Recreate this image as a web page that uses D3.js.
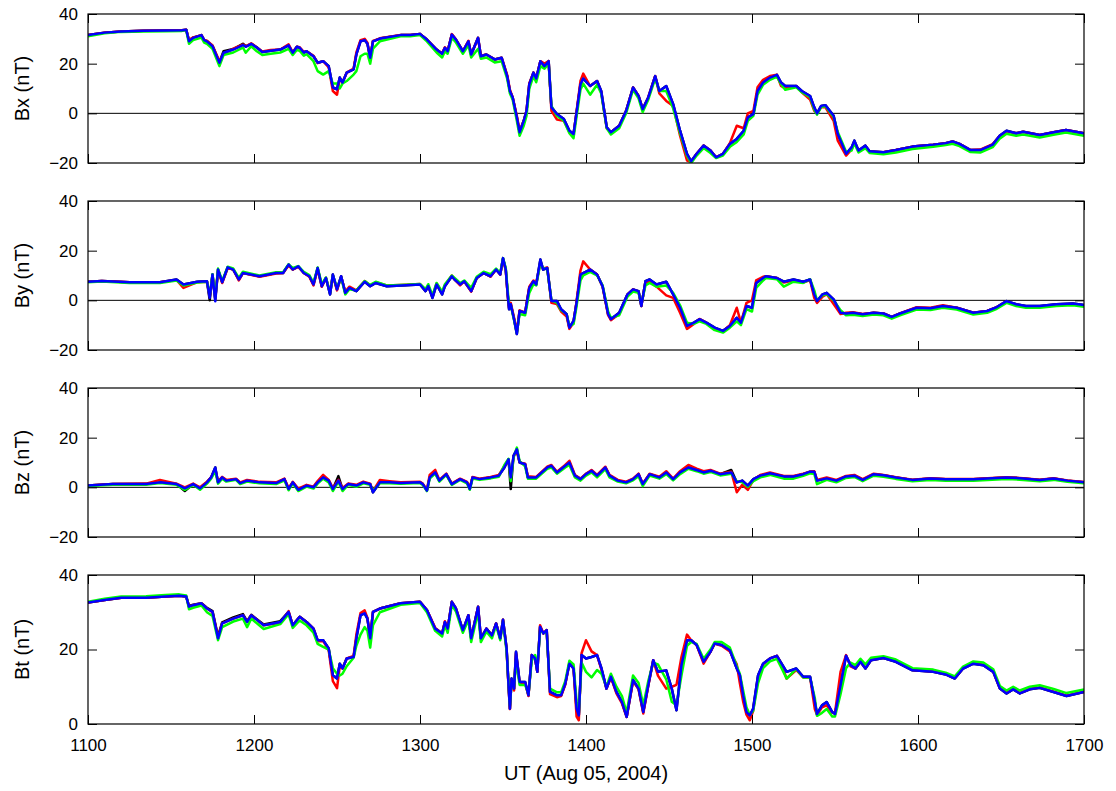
<!DOCTYPE html>
<html>
<head>
<meta charset="utf-8">
<script src="https://cdn.jsdelivr.net/npm/d3@7"></script>
<style>
  body { margin: 0; background: #fff; }
  svg { display: block; }
  text { font-family: "Liberation Sans", Arial, sans-serif; }
</style>
</head>
<body>
<div id="chart"></div>
<script>
// time in minutes after 11:00 UT, one array per panel
const xTickValues = [0, 60, 120, 180, 240, 300, 360];
const xTickLabels = ["1100", "1200", "1300", "1400", "1500", "1600", "1700"];

// ---- Bx ----
const bxT = [0,6,12,20,28,34,35.5,36.5,38,41,
  42,43,45,47.5,49,52.5,56,57,59,61,
  63,66,69.5,72.5,74,75.5,76.5,78,79,81.5,
  83,85,87,88.5,90,91,92,93.5,96,97,
  98.5,100,101,102,103,105.5,113,116.5,120,122.5,
  126,128,129,130,131.5,133,135.5,137.5,138.5,141,
  142,144,147,149.5,151.5,152.5,153.5,155,156,157.5,
  158.5,159.5,161,162,163.5,165,166.5,167.5,169.5,172,
  174,175.5,176.5,178,179,181.5,184,185.5,187.5,189,
  192,194.5,197,199,200.5,202.5,205,206.5,209,211.5,
  214,216.5,218,220,222.5,225,227,229.5,232,234.5,
  237,238.5,240.5,242,244,246.5,249,250.5,252,256,
  258,261,262.5,263.5,265,266.5,269.5,271,274,276,
  277,278.5,281,282.5,287.5,292,298,305.5,310,312.5,
  315,319,322.5,327,329.5,332,335.5,338,344,349,
  353.5,360];
const bxBlack = [31.5,32.5,33,33.3,33.4,33.5,33.7,29.2,30.5,31.5,
  29.5,29,27.2,20.6,25,25.9,28,27,28,26.6,
  24.7,25.2,25.7,27.4,24.4,26.8,26.4,24.5,25,23,
  20.4,21,19,10.4,9.7,14.4,12.4,16.4,17.7,23.7,
  29,29.5,28,22.4,29,30.1,31.5,31.5,32,29.7,
  25.7,24,26.4,25,31.7,29.7,25,29,23.7,30.4,
  23,23.7,21.7,22.4,15,9,6.4,-1.6,-7.6,-3,
  1,11.7,16.4,14,21,19,21,2.4,-0.3,-2.3,
  -7,-8.3,-0.3,11.7,14,11,13,9,-5.6,-7.6,
  -5,1,10.4,7,1.7,6.4,15,9,11,3.7,
  -7,-16.3,-19.3,-16.3,-13,-15,-17.7,-16.3,-12.3,-10.3,
  -7,-1.6,-0.3,9,12.4,14.4,15.5,12.4,11,11,
  9,7,2.4,0,3,3.3,-1,-8.3,-16.3,-13.7,
  -11,-15,-13,-15.3,-15.7,-14.8,-13.4,-12.6,-12,-11.3,
  -12.3,-14.8,-14.8,-12.6,-9,-7,-8,-7.4,-8.7,-7.6,
  -6.7,-8];
const bxRed = [31.5,32.5,33,33.3,33.4,33.5,33.7,29.5,30.6,31.5,
  29.5,29.2,27.3,21,24,26,27.7,27,28.2,26.5,
  24.9,25.5,25.7,27.8,24.6,26.8,26.6,24.8,25,23.2,
  20.2,21,18.5,9,7.5,13.8,12.4,16.4,18,24.5,
  29.5,30,28.4,22.4,29.2,30.2,31.5,31.5,32,29.7,
  25.7,24.2,26.6,25,31.9,29.7,25,29.2,23.7,30.4,
  23.2,23.7,21.7,22.4,15.5,9.5,6.4,-1,-7,-3,
  1,12,16.4,14,21,20,21,1,-2.5,-3,
  -7.5,-8.5,0,13,16,11,13,8.5,-6,-7.6,
  -5,1,10.4,7,1.7,6.4,15,8,5,3,
  -9,-19,-19.5,-16.3,-13,-15,-17.7,-16.3,-12,-5,
  -6,0,1,10.5,13.5,15,15.5,11,10,11,
  8.5,5.5,1,0,2.5,2.5,-3,-11,-17,-14.5,
  -11.5,-15.2,-13.2,-15.5,-15.7,-14.8,-13.4,-12.6,-12,-11.3,
  -12.3,-14.8,-14.6,-12.4,-9.2,-7.2,-8,-7.4,-8.7,-7.6,
  -6.7,-8];
const bxGreen = [31,32.2,32.8,33,33.1,33.2,33.5,28,29.5,30.5,
  28.5,28,26,19,23.5,24.5,26.5,24.4,27,25,
  23.5,24,24.5,26,23.5,25.5,25.2,23.2,23.8,21,
  17,15.6,17,12,12,10,12,13,15.6,17,
  23,24,24,20,26,29,31,31,31.5,29,
  24.5,22.5,25,24,30.5,28.5,24,27.5,22.5,26,
  22,22.5,20.5,21,14,8,5.5,-3,-9,-5,
  -1,10,15,12.5,19,18,20,3,-1,-3,
  -8,-10,-2,9.5,12,7.5,11.5,8,-6,-8.5,
  -6,0,9.5,6,0.5,5.5,14,9,9,2,
  -8,-17,-20,-17,-14,-16,-18,-17,-13.5,-11.5,
  -8.5,-3,-1,7.5,11.5,13.5,14.8,11.8,9.5,10.5,
  8.5,6.5,1.5,-0.5,2.5,3,-1.5,-7.5,-15.5,-15,
  -12,-15.8,-14,-16,-16.5,-15.8,-14.4,-13.5,-12.8,-12.3,
  -13.2,-15.6,-15.8,-13.6,-10.2,-8.2,-9,-8.5,-9.7,-8.6,
  -7.7,-9];
const bxBlue = [31.5,32.5,33,33.3,33.4,33.5,33.7,29,30.4,31.5,
  29.5,29,27,20.4,24.4,25.7,27.5,26.8,28,26.5,
  24.7,25.2,25.7,27.4,24.4,26.8,26.4,24.5,25,23,
  20.4,21,19,10.4,9.7,14.4,12.4,16.4,17.7,23.7,
  29,29.5,28,22.4,29,30.1,31.5,31.5,32,29.7,
  25.7,24,26.4,25,31.7,29.7,25,29,23.7,30.4,
  23,23.7,21.7,22.4,15,9,6.4,-1.6,-7.6,-3,
  1,11.7,16.4,14,21,19,21,2.4,-0.3,-2.3,
  -7,-8.3,-0.3,11.7,14,11,13,9,-5.6,-7.6,
  -5,1,10.4,7,1.7,6.4,15,9,11,3.7,
  -7,-16.3,-19.3,-16.3,-13,-15,-17.7,-16.3,-12.3,-10.3,
  -7,-1.6,-0.3,9,12.4,14.4,15.5,12.4,11,11,
  9,7,2.4,0,3,3.3,-1,-8.3,-16.3,-13.7,
  -11,-15,-13,-15.3,-15.7,-14.8,-13.4,-12.6,-12,-11.3,
  -12.3,-14.8,-14.8,-12.6,-9,-7,-8,-7.4,-8.7,-7.6,
  -6.7,-8];

// ---- By ----
const byT = [0,5,15,26,32,34.5,39.5,43,44,45,
  46,47,48.5,50.5,52.5,54.5,56,62,68,70.5,
  72.5,74,76,78,80,81.5,83,84.5,86,87.5,
  88.5,90,91.5,93,94.5,97,100,102,104,108,
  115,120,122,123,124.5,126,128,129,131.5,132.5,
  134.5,136,138.5,140.5,143,145.5,147.5,149,150,151,
  151.7,152.2,152.8,154,155,156,158,159.5,161,162,
  163.5,164.5,166,167.5,169.5,171,173,174,175.5,176.5,
  178,179,181.5,184,186,188,189,192,195,197,
  199,200,201.5,203,205.5,209,211.5,214,216.5,219,
  221,223.5,226.5,229.5,232,234.5,236,238,240,241.5,
  244,245,249,251.5,255,258.5,261,262.5,263.5,265.5,
  267,269.5,272,274,276.5,280,284,287.5,290.5,293.5,
  299.5,304.5,309,314,320,325,328.5,332,335.5,339,
  344,350,356,360];
const byBlack = [7.5,7.8,7.3,7.3,8.4,6.4,7.5,7.7,0,10.4,
  0.5,12.4,7.3,13.3,12.4,8.4,11,9.7,11,11,
  14.4,12.4,13.7,11,9.7,6.4,13,5.7,9,2.4,
  10.4,4.4,9.7,3,5,3.7,7.5,5.7,7,5.7,
  6.1,6.4,3.7,5.7,1,6.4,2.4,5.7,9.7,8.4,
  6.4,7.7,3.7,9,11,9.7,12.4,10.4,17,12.4,
  2.4,-3.6,-1.6,-7.6,-13.6,-4.3,-5,5,7.7,6.4,
  16.4,12.4,13,-0.3,-0.3,-3.6,-5.6,-11,-8.3,-1.6,
  10.4,11,12.4,10.4,5.7,-5.6,-7.6,-5,2.4,4.4,
  3.7,-2.3,7.7,8.4,6.4,7.5,2.4,-3,-10.3,-9,
  -7.6,-9,-11,-12.3,-10.3,-7,-9,-2.3,-3,7,
  9,9.7,9,7.5,8.4,7.5,8.4,2.4,-0.3,2.4,
  3,0.4,-5,-5.3,-5,-5.6,-5,-5.3,-6.7,-5.3,
  -3,-3.2,-2.3,-3,-5,-4.3,-2.7,-0.3,-1.6,-2.3,
  -2.3,-1.6,-1.3,-1.9];
const byRed = [7.5,7.8,7.3,7.3,8.2,5,7.3,7.5,1.5,10,
  0.5,12,7,13,12.4,8,11,9.5,10.8,11,
  14,12.4,13.5,11,9.5,6,12.5,5.5,9,3,
  10,4,9.5,3.5,5.5,4,7.8,6,7.3,6,
  6.3,6.6,4,5.7,1.5,6.8,3,6,10,8.4,
  6,7.7,3.5,9,11,9.5,12.4,10.4,16.5,12,
  2,-3,-1,-7,-12.5,-4,-5,5.5,8,6.8,
  15,12.8,13.2,-1,-1.5,-4.5,-6.5,-11.5,-9,-1,
  12,15.7,12.4,10.4,5.5,-6,-8,-5.5,2.4,4.4,
  3.5,-2.3,7.5,7.5,5.5,2,1,-5,-11.5,-9.5,
  -7.5,-9,-11.5,-12.3,-10,-3,-9,-1,0,8,
  9.5,9.7,9,7.2,8,7.2,8.2,1,-1,1.5,
  2.5,-1.5,-5.5,-5,-4.8,-5.5,-5,-5.3,-6.7,-5.3,
  -2.8,-3,-2,-3,-5,-4.3,-2.7,-0.4,-1.8,-2.5,
  -2.5,-1.8,-1.5,-2.1];
const byGreen = [7.3,7.6,7,7,8,6,7.2,7.5,2,10.5,
  1,12.8,7.8,13.5,12.8,9,11.5,10,11.3,11.3,
  14.5,13,13.8,11.5,10.2,7,13.2,6.5,9.2,3,
  10,5,9.2,2.4,4.5,4,7.8,6.2,7.5,6,
  6.3,6.6,4.5,6.5,2,7,3.5,6.5,10,9,
  7,8,5,9.5,11.5,10.5,12.8,11,17,13,
  4,-2,-2,-8,-13,-5.5,-6,3,6.5,6,
  15,13,12.5,0,-1,-4,-5.5,-10.5,-9.5,-3,
  8,10,11.5,10,6,-4.5,-7,-6,1.5,3.5,
  3,-1.5,6,7,5.5,6,3,-2,-9,-9.5,
  -8.5,-9.5,-12,-13,-11,-8.5,-10,-3.5,-4.5,5,
  8,9,8.5,5.5,7.5,7,8.5,4,0,2,
  2.5,0,-4,-6,-5.8,-6.3,-5.7,-6,-7.4,-6,
  -3.7,-3.9,-3,-3.7,-5.7,-5,-3.4,-1,-2.3,-3,
  -3,-2.3,-2,-2.6];
const byBlue = [7.5,7.8,7.3,7.3,8.4,6.4,7.5,7.7,1,10.4,
  -0.4,12.4,7.3,13.3,12.4,8.4,11,9.7,11,11,
  14.4,12.4,13.7,11,9.7,6.4,13,5.7,9,2.4,
  10.4,4.4,9.7,3,5,3.7,7.5,5.7,7,5.7,
  6.1,6.4,3.7,5.7,1,6.4,2.4,5.7,9.7,8.4,
  6.4,7.7,3.7,9,11,9.7,12.4,10.4,17,12.4,
  2.4,-3.6,-1.6,-7.6,-13.6,-4.3,-5,5,7.7,6.4,
  16.4,12.4,13,-0.3,-0.3,-3.6,-5.6,-11,-8.3,-1.6,
  10.4,11,12.4,10.4,5.7,-5.6,-7.6,-5,2.4,4.4,
  3.7,-2.3,7.7,8.4,6.4,7.5,2.4,-3,-10.3,-9,
  -7.6,-9,-11,-12.3,-10.3,-7,-9,-2.3,-3,7,
  9,9.7,9,7.5,8.4,7.5,8.4,2.4,-0.3,2.4,
  3,0.4,-5,-5.3,-5,-5.6,-5,-5.3,-6.7,-5.3,
  -3,-3.2,-2.3,-3,-5,-4.3,-2.7,-0.3,-1.6,-2.3,
  -2.3,-1.6,-1.3,-1.9];

// ---- Bz ----
const bzT = [0,9,21,26,32,35,38,40.5,43,44.5,
  46,47,48.5,50,53.5,55,57.5,62,68,71,
  72.5,74,76,79,81.5,83,85,87,88.5,90.5,
  92,94,97,99.5,102,103,105.5,109,113,120,
  121,122.5,123.5,125.5,127,129.5,131.5,134.5,137,138,
  139,141.5,145.5,148.5,150.5,152,152.8,153.8,155,156,
  158,159,162,166,167.5,169.5,172.5,174,176,178,
  180,182,184,187,188.5,191.5,194.5,197,199,200.5,
  203,206.5,209,211.5,214,217,220,222.5,225,228.5,
  232.5,234.5,236.5,238.5,240.5,243,246.5,251.5,255,258.5,
  261,262.5,263.5,267,270.5,274,277,280,284,287.5,
  292,298,304.5,310,320,332,338,344,349,354,
  360];
const bzBlack = [0.7,1.3,1.3,2,1.3,-1.5,1.3,-0.4,2,4,
  8,2,4,2.7,3.3,1.7,2.7,2,1.7,3.3,
  -0.7,2,-1,0.7,0,2,4,2.7,-0.7,4.5,
  -0.7,1.3,0.7,2,1.3,-2,2,2,1.7,2,
  1.3,-1.3,4,6,2.7,5.3,1.3,3.3,2,-0.7,
  4,3.3,4,4.7,8,11.3,-0.7,12.7,15.3,10,
  9.3,4,4,8,8.7,6,8.7,10,4.7,3.3,
  5.3,6.7,4.7,8,4.7,2.7,2,3.3,5.3,1.3,
  5.3,4,6,3.3,6,8,7,6,6.7,5.3,
  7,2,2.7,0.7,3.3,4.7,5.7,4.4,4.4,5.3,
  6.3,6.3,2.7,3.6,2.7,4.4,4.7,3,5.3,4.9,
  4,3,3.6,3.3,3.3,4,3.6,3,3.6,2.7,
  2];
const bzRed = [0.7,1.3,1.5,3,1.5,0,1.5,0,2.3,4,
  7,2.3,4.2,3,3.5,2,3,2.2,2,3.5,
  -0.3,2.2,-0.5,1,0.3,2.5,5,3,-0.3,3,
  -0.3,1.5,1,2.3,1.5,-1.5,3,2.5,2,2.2,
  1.5,-1,5,7,3,5.5,1.5,3.5,2.2,0,
  4.2,3.5,4.2,5,8.5,11,3.5,12.5,14.5,10,
  9.5,4.5,4.2,8.3,9,6.3,9,10.7,5,3.5,
  5.5,7,5,8.3,5,3,2.3,3.5,5.5,1.5,
  5.5,4.3,6.5,3.5,6.5,9,7.5,6.5,7,5.5,
  6.3,-2,1,-1,3,5,6,4.6,4.6,5.5,
  6.3,6.5,3,4,3,4.6,5,3.3,5.5,5,
  4.1,3.1,3.7,3.4,3.4,4.1,3.7,3.1,3.7,2.8,
  2.1];
const bzGreen = [0.5,1,1,1.7,1,-1,1,-1,1.5,3.5,
  6.5,1.5,3.5,2.3,3,1.3,2.3,1.6,1.3,2.8,
  -1.2,1.6,-1.5,0.3,-0.5,1.5,3.5,2,-1.5,2.3,
  -1.5,1,0.2,1.6,1,-1.5,1.7,1.6,1.4,1.7,
  1,-1.5,3.5,5.5,2.3,5,1,3,1.6,-1,
  3.5,3,3.6,4.3,9,11.5,2.5,12,16,10.5,
  8.5,3.5,3.5,7.5,8,5.5,8,9,4,2.7,
  4.7,6,4,7.3,4,2.3,1.6,2.8,4.5,0.5,
  4.7,3.5,5.3,2.8,5.3,7.5,6.5,5.5,6.2,4.8,
  5.5,2.5,2,0.2,2.5,4,5,3.5,3.5,4.6,
  5.6,5.5,1.3,3,2,3.8,4.2,2.5,4.7,4.3,
  3.4,2.4,3,2.7,2.7,3.4,3,2.4,3,2.2,
  1.6];
const bzBlue = [0.7,1.3,1.3,2,1.3,-0.4,1.3,-0.4,2,4,
  8,2,4,2.7,3.3,1.7,2.7,2,1.7,3.3,
  -0.7,2,-1,0.7,0,2,4,2.7,-0.7,2.7,
  -0.7,1.3,0.7,2,1.3,-2,2,2,1.7,2,
  1.3,-1.3,4,6,2.7,5.3,1.3,3.3,2,-0.7,
  4,3.3,4,4.7,8,11.3,4,12.7,15.3,10,
  9.3,4,4,8,8.7,6,8.7,10,4.7,3.3,
  5.3,6.7,4.7,8,4.7,2.7,2,3.3,5.3,1.3,
  5.3,4,6,3.3,6,8,7,6,6.7,5.3,
  6,2,2.7,0.7,3.3,4.7,5.7,4.4,4.4,5.3,
  6.3,6.3,2.7,3.6,2.7,4.4,4.7,3,5.3,4.9,
  4,3,3.6,3.3,3.3,4,3.6,3,3.6,2.7,
  2];

// ---- Bt ----
const btT = [0,6,12,21,28,33,35.5,36.5,38,41,
  43,45,47,48.5,52.5,56,57.5,59,63.5,69.5,
  72.5,74,76.5,79,81.5,83,85,87,88.5,90,
  91,92,93.5,96,97,98.5,100,101,102,103,
  105.5,113,120,122.5,125.5,128,129,130,131.5,133,
  135.5,137.5,138.5,141,142,144,146,147.5,149,150,
  151.3,152,152.5,153.1,154,154.7,156,158,159.2,160.4,
  161.6,162.4,163.4,164.6,165.8,167,169.5,171,172.5,174,
  175.5,176.6,177.4,178.4,180,182,184,185.6,187.4,189,
  191,193,194.7,197,199,200.7,202.5,204.3,206,209,
  211,212.7,214.5,216.5,218,220,222.5,225,226.5,229,
  232,234.5,235.6,236.8,238,239.2,240.4,242.2,244,246.5,
  249,250.7,252.5,256,258.5,261,262.7,263.5,265.3,267,
  269,270,272,274,275.6,277.4,279.2,281,283,287.5,
  292,298,305.5,310,313.3,316.3,320,323.6,327.2,329.6,
  332,334.4,336.8,340.4,344,349,353.7,360];
const btBlack = [32.6,33.3,33.9,33.9,34.2,34.4,34.2,31.7,32,32.4,
  31.2,30.3,23.5,27.3,28.6,29.5,27.6,29.3,26.7,27.6,
  30.1,26.5,28.8,27.4,25.6,22.5,22.5,20.3,13.1,12.2,
  16.2,14.9,17.6,18,23,29.2,29.7,28.3,23,30.1,
  31,32.4,32.8,30.6,25.6,24.3,27.4,25.6,32.8,31,
  25.2,29.2,23,31.5,23,25.6,23.8,27,23,28,
  20.3,10.4,4.1,12.2,9.5,19.4,11.3,11.3,7.7,18.5,
  17.6,14,26.1,24.3,25.2,8.6,7.7,7.7,10.8,16.2,
  14.9,4.1,2.3,18.5,17.6,18,18.5,14.9,9.5,12.7,
  8.6,5.9,1.9,11.8,9.5,3.2,10.4,17.1,14,14.4,
  9.5,3.7,15.8,22.5,22.5,21.2,16.7,19.4,21.6,21.2,
  19.8,14.9,13.1,7.7,3.2,2.3,4.1,13.1,16.2,17.6,
  18.3,16.2,14,14.9,12.7,12.7,5.9,2.7,5,5.9,
  3.2,2.7,10.4,18.3,15.8,14.9,16.7,14.9,17.1,17.7,
  16.7,14.4,14,13.3,12.2,14.9,16.2,15.8,14,9.5,
  8.2,9.3,8.2,9.3,9.7,8.6,7.5,8.6];
const btRed = [32.6,33.3,33.9,33.9,34.2,34.4,34.2,31.5,31.9,32.4,
  31,30,23.3,27,28.3,29.2,27.4,29.2,26.5,27.2,
  30.3,26.5,28.8,27.4,25.6,22.2,22.3,19.8,11.5,9.6,
  15.5,14.9,17.6,18.3,24,29.8,30.5,28.5,23,30.1,
  31,32.4,32.8,30.6,25.8,24.3,27.6,25.6,32.8,31,
  25,29.2,23,31.5,23,25.6,23.8,27,23,28,
  20,10,4,12,9,19,11,11,7.5,18.5,
  17.6,14,26.5,24.3,25.2,8,7.2,7.5,10.5,16.5,
  15,2,1,19,22.5,19.5,18.5,14.5,9.5,12.5,
  8.2,5.5,1.9,11.5,9.3,2.8,10.2,17.1,13,9.5,
  10,10.5,18,24,22.5,21.2,16.2,19.4,21.6,21,
  19.5,16,11,6,2.5,1,3.5,12.5,16,17.6,
  18.3,16,12.2,14.5,12.5,12.5,4,2.5,4.5,5,
  3,3,14,18.5,15.5,14.9,16.8,15,17.2,17.8,
  16.8,14.5,14.1,13.4,12.3,15,16.3,15.9,14.1,9.6,
  8.3,9.4,8.3,9.4,9.8,8.7,7.6,8.7];
const btGreen = [32.8,33.6,34.2,34.3,34.6,34.8,34.5,30.8,31.2,31.8,
  30,29,22.5,26,27.5,28.3,26,28.3,25.5,26.8,
  29.5,25.8,27.8,26.5,24.5,21.5,20.7,20,15,13.5,
  13,13.5,15.5,17.8,21,24,26,25,20.5,26.5,
  30,32,32.5,30,25,23.5,26.5,24.5,32,30.2,
  24.5,28,22,30,22,24.8,23,26.5,22.5,27.5,
  19.5,11,5,11,10,17,10.5,10.5,8,17,
  18.5,15.5,25,24.5,24.5,9.5,8.5,8.5,11.5,17,
  16,6,3,16.5,14,12.5,14.5,13.5,10,13.5,
  10,7.5,3,13,11,5,11.5,16.5,16,12,
  6,5,13,21,22,21.5,17.5,20,22,22,
  20.5,15.5,13.5,9,4.5,2.5,3.5,11,15,16.8,
  17.5,15,12.2,14.8,12.5,12.5,7,2.2,3,4,
  2,2,8,15,16.5,15.8,17.5,16,17.8,18.2,
  17.3,15,14.6,13.8,12.8,15.4,16.8,16.5,14.7,10.2,
  9,10,9,10,10.4,9.4,8.3,9.3];
const btBlue = [32.6,33.3,33.9,33.9,34.2,34.4,34.2,31.5,31.9,32.4,
  31,30.1,23,27,28.3,29.2,27.4,29.2,26.5,27.4,
  30.1,26.5,28.8,27.4,25.6,22.5,22.5,20.3,13.1,12.2,
  16.2,14.9,17.6,18,23,29.2,29.7,28.3,23,30.1,
  31,32.4,32.8,30.6,25.6,24.3,27.4,25.6,32.8,31,
  25.2,29.2,23,31.5,23,25.6,23.8,27,23,28,
  20.3,10.4,4.1,12.2,9.5,19.4,11.3,11.3,7.7,18.5,
  17.6,14,26.1,24.3,25.2,8.6,7.7,7.7,10.8,16.2,
  14.9,4.1,2.3,18.5,17.6,18,18.5,14.9,9.5,12.7,
  8.6,5.9,1.9,11.8,9.5,3.2,10.4,17.1,14,14.4,
  9.5,3.7,15.8,22.5,22.5,21.2,16.7,19.4,21.6,21.2,
  19.8,14.9,13.1,7.7,3.2,2.3,4.1,13.1,16.2,17.6,
  18.3,16.2,14,14.9,12.7,12.7,5.9,2.7,5,5.9,
  3.2,2.7,10.4,18.3,15.8,14.9,16.7,14.9,17.1,17.7,
  16.7,14.4,14,13.3,12.2,14.9,16.2,15.8,14,9.5,
  8.2,9.3,8.2,9.3,9.7,8.6,7.5,8.6];

const seriesColors = ["#000000", "#ff0000", "#00ff00", "#0000ff"];

let panels = [
  { label: "Bx (nT)", t: bxT, series: [bxBlack, bxRed, bxGreen, bxBlue], domain: [-20, 40], ticks: [-20, 0, 20, 40] },
  { label: "By (nT)", t: byT, series: [byBlack, byRed, byGreen, byBlue], domain: [-20, 40], ticks: [-20, 0, 20, 40] },
  { label: "Bz (nT)", t: bzT, series: [bzBlack, bzRed, bzGreen, bzBlue], domain: [-20, 40], ticks: [-20, 0, 20, 40] },
  { label: "Bt (nT)", t: btT, series: [btBlack, btRed, btGreen, btBlue], domain: [0, 40], ticks: [0, 20, 40] },
];

let width = 1116;
let height = 791;
let left = 88, right = 1084;
let panelTop = [14, 201, 388, 575];
let panelH = 149;

let svg = d3.select("#chart").append("svg")
  .attr("width", width)
  .attr("height", height);

let x = d3.scaleLinear().domain([0, 360]).range([left, right]);

panels.forEach((p, k) => {
  let top = panelTop[k];
  let y = d3.scaleLinear().domain(p.domain).range([top + panelH, top]);
  let g = svg.append("g");

  g.append("clipPath").attr("id", "clip" + k)
    .append("rect")
    .attr("x", left).attr("y", top)
    .attr("width", right - left).attr("height", panelH);

  // zero line
  if (p.domain[0] < 0) {
    g.append("line")
      .attr("x1", left).attr("x2", right)
      .attr("y1", y(0)).attr("y2", y(0))
      .attr("stroke", "#000").attr("stroke-width", 1);
  }

  let line = d3.line()
    .x((d, i) => x(p.t[i]))
    .y((d) => y(d));

  p.series.forEach((s, j) => {
    g.append("path")
      .datum(s)
      .attr("clip-path", `url(#clip${k})`)
      .attr("fill", "none")
      .attr("stroke", seriesColors[j])
      .attr("stroke-width", 2.5)
      .attr("stroke-linejoin", "round")
      .attr("d", line);
  });

  // axes, ticks pointing inward
  let yl = g.append("g").attr("transform", `translate(${left},0)`)
    .call(d3.axisLeft(y).tickValues(p.ticks).tickSize(-9).tickPadding(10));
  let yr = g.append("g").attr("transform", `translate(${right},0)`)
    .call(d3.axisRight(y).tickValues(p.ticks).tickSize(-9).tickFormat(""));
  let xt = g.append("g").attr("transform", `translate(0,${top})`)
    .call(d3.axisTop(x).tickValues(xTickValues).tickSize(-9).tickFormat(""));
  let xb = g.append("g").attr("transform", `translate(0,${top + panelH})`)
    .call(d3.axisBottom(x).tickValues(xTickValues).tickSize(-9).tickPadding(15)
      .tickFormat((d, i) => (k === panels.length - 1 ? xTickLabels[i] : "")));

  [yl, yr, xt, xb].forEach((a) => {
    a.select(".domain").remove();
    a.selectAll("line").attr("stroke", "#000");
    a.selectAll("text")
      .attr("fill", "#000")
      .style("font-size", "17px")
      .style("font-family", "'Liberation Sans', Arial, sans-serif");
  });

  g.append("rect")
    .attr("x", left).attr("y", top)
    .attr("width", right - left).attr("height", panelH)
    .attr("fill", "none").attr("stroke", "#000").attr("stroke-width", 1.2);

  g.append("text")
    .attr("transform", `translate(${29},${top + panelH / 2}) rotate(-90)`)
    .attr("text-anchor", "middle")
    .style("font-size", "20px")
    .text(p.label);
});

svg.append("text")
  .attr("x", (left + right) / 2)
  .attr("y", 780)
  .attr("text-anchor", "middle")
  .style("font-size", "20px")
  .text("UT (Aug 05, 2004)");
</script>
</body>
</html>
